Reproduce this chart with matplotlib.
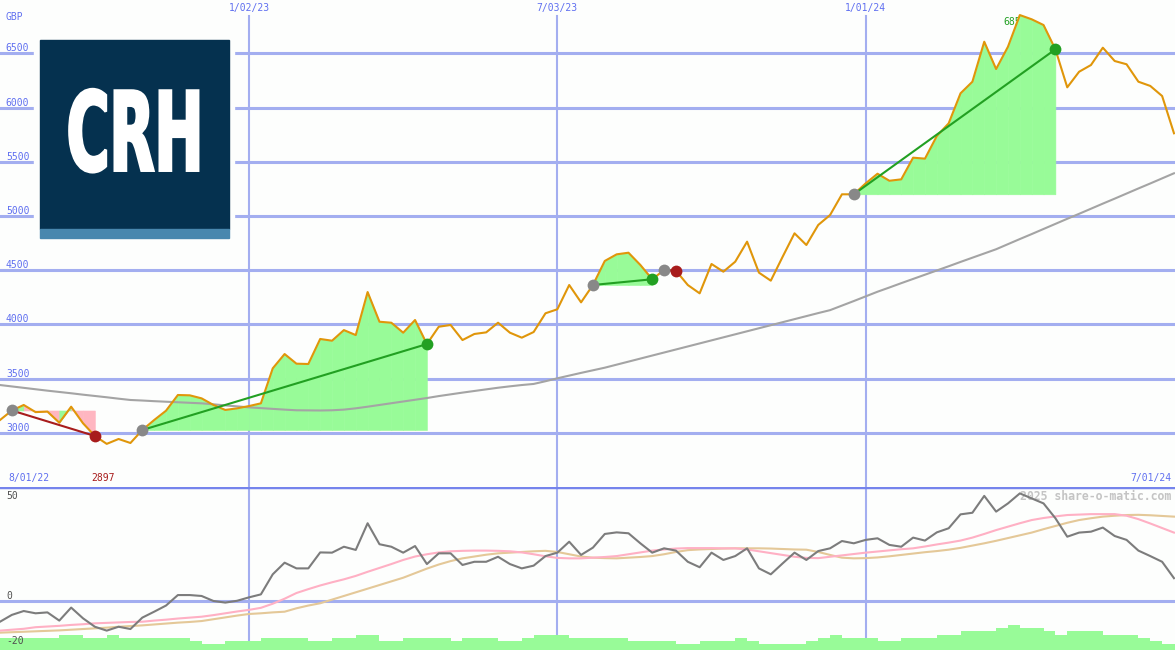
import numpy as np
import pandas as pd
import matplotlib
matplotlib.use("Agg")
import matplotlib.pyplot as plt
import matplotlib.dates as mdates
from matplotlib.patches import Rectangle
from matplotlib.patheffects import AbstractPathEffect
from matplotlib.transforms import Affine2D

# ---------------- data (weekly closes, GBP pence) ----------------
weeks = pd.date_range("2022-08-08", periods=100, freq="7D")

price = [3117, 3205, 3256, 3190, 3195, 3092, 3240, 3087, 2970, 2897,
         2942, 2905, 3025, 3117, 3203, 3348, 3345, 3317, 3256, 3210,
         3225, 3246, 3271, 3594, 3726, 3637, 3634, 3865, 3849, 3947,
         3901, 4298, 4024, 4015, 3923, 4040, 3818, 3978, 3994, 3855,
         3911, 3926, 4015, 3923, 3877, 3929, 4102, 4139, 4363, 4203,
         4363, 4585, 4646, 4661, 4548, 4416, 4501, 4495, 4363, 4286,
         4557, 4486, 4578, 4763, 4477, 4403, 4624, 4840, 4732, 4917,
         5009, 5200, 5200, 5301, 5390, 5325, 5338, 5538, 5529, 5738,
         5855, 6132, 6239, 6608, 6356, 6562, 6854, 6815, 6762, 6538,
         6187, 6331, 6393, 6553, 6430, 6400, 6239, 6200, 6107, 5763]

price_ma = [3440, 3427, 3414, 3401, 3388, 3376, 3364, 3351, 3339, 3327,
            3314, 3302, 3297, 3291, 3286, 3281, 3276, 3271, 3262, 3252,
            3243, 3234, 3227, 3220, 3213, 3207, 3206, 3205, 3207, 3213,
            3225, 3240, 3256, 3272, 3288, 3304, 3320, 3338, 3354, 3370,
            3385, 3400, 3415, 3428, 3440, 3450, 3475, 3502, 3527, 3552,
            3576, 3600, 3628, 3656, 3684, 3712, 3740, 3768, 3796, 3824,
            3852, 3880, 3908, 3936, 3964, 3992, 4020, 4048, 4076, 4104,
            4131, 4173, 4215, 4258, 4301, 4340, 4380, 4419, 4458, 4497,
            4536, 4576, 4615, 4654, 4693, 4740, 4787, 4833, 4880, 4927,
            4974, 5020, 5067, 5114, 5160, 5207, 5254, 5300, 5347, 5394]

momentum = [-9.1, -6.1, -4.4, -5.4, -5.0, -8.6, -2.9, -7.6, -11.3, -13.0,
            -11.3, -12.3, -7.3, -4.7, -2.0, 2.6, 2.6, 2.2, 0.0, -0.7,
            0.1, 1.6, 2.9, 11.7, 16.8, 14.3, 14.3, 21.3, 21.2, 23.8,
            22.4, 34.1, 24.9, 23.8, 21.2, 24.1, 16.2, 20.9, 20.9, 15.8,
            17.2, 17.2, 19.4, 16.2, 14.3, 15.5, 19.7, 21.2, 26.0, 20.2,
            23.4, 29.4, 30.1, 29.7, 25.3, 21.2, 23.1, 22.1, 17.2, 14.8,
            21.2, 18.0, 19.7, 23.1, 14.3, 11.7, 16.5, 21.2, 18.0, 21.9,
            23.1, 26.3, 25.3, 26.8, 27.5, 24.6, 23.8, 27.8, 26.5, 30.1,
            31.9, 38.0, 38.7, 46.1, 39.2, 42.8, 47.2, 45.0, 42.8, 36.3,
            28.2, 30.0, 30.4, 32.2, 28.5, 26.8, 22.1, 19.7, 17.2, 10.0]

mom_fast = [-13.0, -12.6, -12.2, -11.5, -11.2, -10.9, -10.5, -10.2, -9.8, -9.6,
            -9.4, -9.2, -9.1, -8.6, -8.2, -7.7, -7.3, -6.9, -6.2, -5.4,
            -4.6, -3.9, -3.0, -1.2, 1.0, 3.5, 5.2, 6.8, 8.2, 9.5,
            11.0, 12.8, 14.5, 16.2, 18.0, 19.5, 20.5, 21.3, 21.8, 22.0,
            22.1, 22.1, 22.0, 21.8, 21.3, 20.5, 19.6, 18.9, 18.7, 18.7,
            19.0, 19.3, 19.7, 20.5, 21.3, 22.1, 22.6, 23.0, 23.2, 23.2,
            23.2, 23.1, 23.1, 22.6, 21.8, 21.0, 20.2, 19.4, 18.9, 18.8,
            19.4, 20.0, 20.6, 21.2, 21.7, 22.2, 22.7, 23.1, 23.9, 24.8,
            25.6, 26.5, 27.8, 29.4, 31.1, 32.6, 34.1, 35.5, 36.4, 37.1,
            37.7, 37.9, 38.1, 38.1, 38.1, 37.4, 35.9, 34.0, 32.0, 30.0]

mom_slow = [-13.9, -13.7, -13.5, -13.3, -13.1, -12.9, -12.6, -12.3, -12.0, -11.7,
            -11.3, -11.0, -10.7, -10.3, -9.9, -9.5, -9.2, -8.8, -8.0, -7.2,
            -6.4, -5.7, -5.4, -5.0, -4.7, -3.2, -2.0, -1.0, 0.6, 2.2,
            3.8, 5.4, 7.0, 8.6, 10.2, 12.2, 14.2, 16.0, 17.5, 18.7,
            19.5, 20.3, 20.9, 21.2, 21.5, 21.8, 22.0, 21.5, 20.5, 19.5,
            19.0, 18.8, 18.7, 19.0, 19.3, 19.7, 20.5, 21.5, 22.3, 22.6,
            22.8, 23.0, 23.1, 23.1, 23.1, 23.0, 22.8, 22.6, 22.5, 21.5,
            20.2, 19.0, 18.7, 18.8, 19.1, 19.6, 20.2, 20.8, 21.4, 21.9,
            22.5, 23.3, 24.3, 25.3, 26.4, 27.6, 28.8, 30.0, 31.5, 32.9,
            34.3, 35.5, 36.3, 37.0, 37.4, 37.7, 37.8, 37.6, 37.3, 37.0]

volume = [4, 4, 4, 4, 4, 5, 5, 4, 4, 5,
          4, 4, 4, 4, 4, 4, 3, 2, 2, 3,
          3, 3, 4, 4, 4, 4, 3, 3, 4, 4,
          5, 5, 3, 3, 4, 4, 4, 4, 3, 4,
          4, 4, 3, 3, 4, 5, 5, 5, 4, 4,
          4, 4, 4, 3, 3, 3, 3, 2, 2, 3,
          3, 3, 4, 3, 2, 2, 2, 2, 3, 4,
          5, 4, 4, 4, 3, 3, 4, 4, 4, 5,
          5, 6, 6, 6, 7, 8, 7, 7, 6, 5,
          6, 6, 6, 5, 5, 5, 4, 3, 2, 2]

# (entry week, exit week)
trades = [(1, 8), (12, 36), (50, 55), (56, 57), (72, 89)]

price_levels = [3000, 3500, 4000, 4500, 5000, 5500, 6000, 6500]
mid_dates = ["2023-01-02", "2023-07-03", "2024-01-01"]
mid_labels = ["1/02/23", "7/03/23", "1/01/24"]
start_label = "8/01/22"
end_label = "7/01/24"
low_label = "2897"
high_label = "6854"
mom_levels = [50, 0, -20]

# ---------------- styling ----------------
W, H = 1175, 650
bg = "#fdfefd"
grid_blue = "#a3aef0"
label_blue = "#5f6ff0"
orange = "#e0960a"
green_fill = "#98fb98"
pink_fill = "#ffb6c1"
win_green = "#22a022"
loss_red = "#a81c1c"
mono = "DejaVu Sans Mono"


class LogoGlyphs(AbstractPathEffect):
    # stretch the glyphs about (cx, cy) in display pixels and thicken them
    def __init__(self, sx, sy, cx, cy, lw):
        super().__init__()
        self.sx, self.sy, self.cx, self.cy, self.lw = sx, sy, cx, cy, lw

    def draw_path(self, renderer, gc, tpath, affine, rgbFace=None):
        a = affine + Affine2D().translate(-self.cx, -self.cy).scale(self.sx, self.sy) \
            .translate(self.cx, self.cy)
        gc0 = renderer.new_gc()
        gc0.copy_properties(gc)
        gc0.set_linewidth(self.lw)
        gc0.set_foreground(rgbFace)
        gc0.set_joinstyle("miter")
        renderer.draw_path(gc0, tpath, a, rgbFace)
        gc0.restore()


fig = plt.figure(figsize=(W / 100, H / 100), dpi=100, facecolor=bg)
split = (H - 487) / H
ax = fig.add_axes([0, split, 1, 1 - split])
axm = fig.add_axes([0, 0, 1, split])
axv = fig.add_axes([0, 0, 1, split])
for a in (ax, axm):
    a.set_facecolor(bg)
    a.set_axis_off()
axv.set_axis_off()
axv.patch.set_alpha(0)

x0 = mdates.date2num(weeks[0])
xlim = (x0, x0 + 693.6)
wk = mdates.date2num(weeks)
price = np.array(price)

# ---------------- price panel ----------------
ax.set_xlim(xlim)
ax.set_ylim(2499, 6993)
for lv in price_levels:
    ax.axhline(lv, color=grid_blue, lw=2.2, zorder=0)
    ax.text(0.005, lv, str(lv), transform=ax.get_yaxis_transform(), color=label_blue,
            fontsize=7, family=mono, va="bottom", ha="left", zorder=6)
for d, lab in zip(mid_dates, mid_labels):
    dn = mdates.date2num(pd.Timestamp(d))
    ax.axvline(dn, ymax=1 - 16 / 487, color=grid_blue, lw=1.5, zorder=0)
    ax.text(dn, 1 - 8 / 487, lab, transform=ax.get_xaxis_transform(), color=label_blue,
            fontsize=7, family=mono, ha="center", va="center")

ax.text(wk[86] - 10, 6790, high_label, color=win_green, fontsize=7, family=mono,
        ha="left", va="center", zorder=1.5)

for a_i, b_i in trades:
    entry = price[a_i]
    for i in range(a_i, b_i):
        c = green_fill if price[i + 1] >= entry else pink_fill
        ax.fill_between(wk[i:i + 2], price[i:i + 2], entry, color=c, lw=0.4, zorder=2)

ax.plot(wk, price_ma, color="#a4a4a4", lw=1.5, zorder=3)
ax.plot(wk, price, color=orange, lw=1.5, zorder=4)

for a_i, b_i in trades:
    c = win_green if price[b_i] >= price[a_i] else loss_red
    ax.plot([wk[a_i], wk[b_i]], [price[a_i], price[b_i]], color=c, lw=1.5, zorder=5)
    ax.plot(wk[a_i], price[a_i], "o", color="#888888", ms=8.5, mec="none", zorder=6)
    ax.plot(wk[b_i], price[b_i], "o", color=c, ms=8.5, mec="none", zorder=6)

# ---------------- momentum panel ----------------
axm.set_xlim(xlim)
axm.set_ylim(-21.5, 50)
axm.axhline(0, color=grid_blue, lw=2.2, zorder=0)
axm.axhline(50, color="#7584ec", lw=2.5, zorder=5)
for d in mid_dates:
    axm.axvline(mdates.date2num(pd.Timestamp(d)), color=grid_blue, lw=1.5, zorder=0)
axm.text(0.997, 0.94, "2025 share-o-matic.com", transform=axm.transAxes, color="#c4c4c4",
         fontsize=8.3, family=mono, weight="bold", va="center", ha="right", zorder=1)
axm.plot(wk, mom_slow, color="#e4c898", lw=1.5, zorder=2)
axm.plot(wk, mom_fast, color="#ffb0c4", lw=1.5, zorder=3)
axm.plot(wk, momentum, color="#7c7c7c", lw=1.5, zorder=4)

axv.set_xlim(xlim)
axv.set_ylim(0, 52.6)
axv.bar(wk, volume, width=7, align="edge", color=green_fill, lw=0, zorder=1)


# ---------------- labels / logo ----------------
def px(x, y):
    return x / W, 1 - y / H


for lv, ypx in zip(mom_levels, [496, 596, 641]):
    fig.text(*px(6, ypx), str(lv), color="#505050", fontsize=7, family=mono,
             va="center", zorder=10)

fig.text(*px(6, 17), "GBP", color=label_blue, fontsize=7, family=mono, va="center")
fig.text(*px(8, 478), start_label, color=label_blue, fontsize=7, family=mono, va="center")
fig.text(*px(1171, 478), end_label, color=label_blue, fontsize=7, family=mono,
         va="center", ha="right")
fig.text(*px(91, 478), low_label, color=loss_red, fontsize=7, family=mono, va="center")

fig.patches.append(Rectangle(px(34, 243), 200 / W, 208 / H, transform=fig.transFigure,
                             color=bg, zorder=8))
fig.patches.append(Rectangle(px(40, 229), 189 / W, 189 / H, transform=fig.transFigure,
                             color="#05314f", zorder=9))
fig.patches.append(Rectangle(px(40, 238), 189 / W, 9 / H, transform=fig.transFigure,
                             color="#4887ae", zorder=9))
fig.text(*px(135, 170.6), "CRH", color="white", fontsize=55, weight="bold",
         family="DejaVu Sans", ha="center", va="baseline", zorder=10,
         path_effects=[LogoGlyphs(0.765, 1.436, 135, H - 170.6, 2)])

fig.savefig("out.png", dpi=100, facecolor=bg)
